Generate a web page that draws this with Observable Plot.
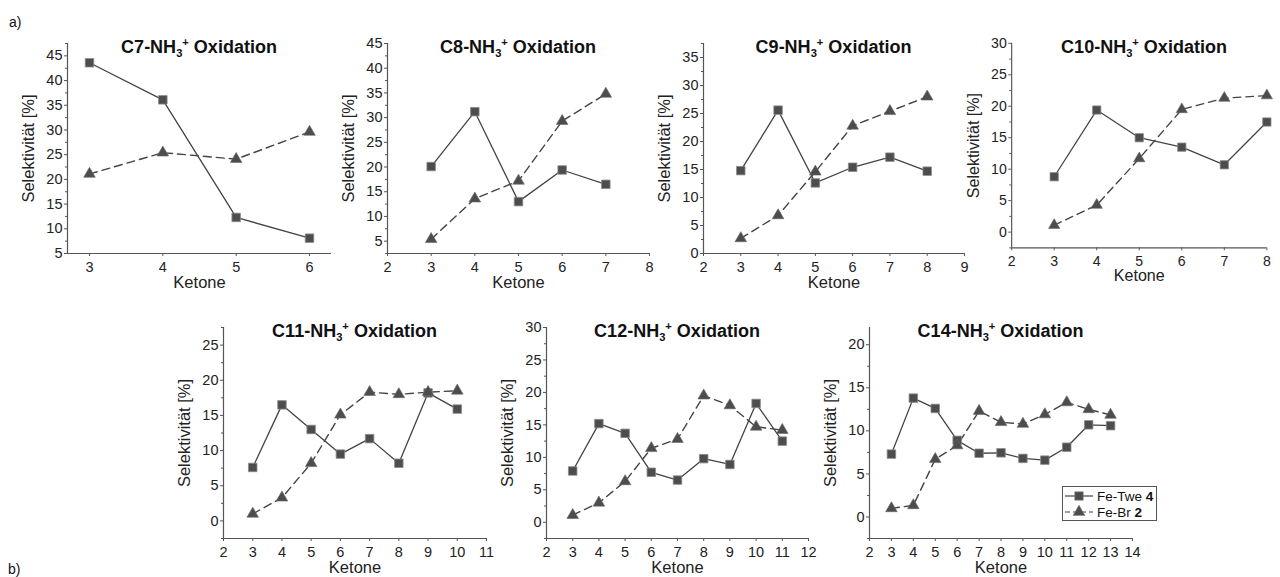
<!DOCTYPE html>
<html><head><meta charset="utf-8">
<script src="https://cdn.jsdelivr.net/npm/d3@7"></script>
<script src="https://cdn.jsdelivr.net/npm/@observablehq/plot@0.6"></script>
<style>
html,body{margin:0;padding:0;background:#fff;overflow:hidden;}
#fig{position:relative;width:1280px;height:577px;overflow:hidden;font-family:"Liberation Sans",Arial,sans-serif;color:#222;}
.panel{position:absolute;}
.title{position:absolute;font-weight:bold;font-size:18px;line-height:18px;white-space:nowrap;transform:translateX(-50%);color:#111;}
.title sub{font-size:0.62em;vertical-align:-0.35em;line-height:0;}
.title sup{font-size:0.62em;vertical-align:0.6em;line-height:0;}
.tag{position:absolute;font-size:14px;line-height:14px;color:#111;}
#legend{position:absolute;left:1062px;top:486px;width:93px;height:33px;border:1px solid #555;background:#fff;font-size:13.5px;color:#111;}
#legend .row{position:absolute;left:0;height:16px;display:flex;align-items:center;white-space:nowrap;}
#legend svg{display:block;}
</style>
</head><body>
<div id="fig"></div>
<script>
// ---------- data ----------
const seriesNames = ["Fe-Twe 4", "Fe-Br 2"];

const ketonesC7 = [3, 4, 5, 6];
const feTweC7 = [43.6, 36.1, 12.3, 8.1];
const feBrC7 = [21.1, 25.4, 24.1, 29.6];
const xTicksC7 = [3, 4, 5, 6];
const yTicksC7 = [5, 10, 15, 20, 25, 30, 35, 40, 45];

const ketonesC8 = [3, 4, 5, 6, 7];
const feTweC8 = [20.1, 31.2, 13.0, 19.4, 16.5];
const feBrC8 = [5.4, 13.6, 17.2, 29.3, 34.8];
const xTicksC8 = [2, 3, 4, 5, 6, 7, 8];
const yTicksC8 = [5, 10, 15, 20, 25, 30, 35, 40, 45];

const ketonesC9 = [3, 4, 5, 6, 7, 8];
const feTweC9 = [14.8, 25.6, 12.6, 15.4, 17.2, 14.7];
const feBrC9 = [2.7, 6.8, 14.6, 22.8, 25.4, 28.0];
const xTicksC9 = [2, 3, 4, 5, 6, 7, 8, 9];
const yTicksC9 = [0, 5, 10, 15, 20, 25, 30, 35];

const ketonesC10 = [3, 4, 5, 6, 7, 8];
const feTweC10 = [8.8, 19.4, 15.0, 13.5, 10.7, 17.5];
const feBrC10 = [1.1, 4.3, 11.7, 19.5, 21.3, 21.7];
const xTicksC10 = [2, 3, 4, 5, 6, 7, 8];
const yTicksC10 = [0, 5, 10, 15, 20, 25, 30];

const ketonesC11 = [3, 4, 5, 6, 7, 8, 9, 10];
const feTweC11 = [7.6, 16.5, 13.0, 9.5, 11.7, 8.2, 18.2, 15.9];
const feBrC11 = [1.0, 3.3, 8.2, 15.1, 18.3, 18.0, 18.3, 18.5];
const xTicksC11 = [2, 3, 4, 5, 6, 7, 8, 9, 10, 11];
const yTicksC11 = [0, 5, 10, 15, 20, 25];

const ketonesC12 = [3, 4, 5, 6, 7, 8, 9, 10, 11];
const feTweC12 = [7.9, 15.2, 13.7, 7.7, 6.5, 9.8, 8.9, 18.3, 12.5];
const feBrC12 = [1.1, 3.0, 6.3, 11.4, 12.8, 19.5, 18.0, 14.7, 14.2];
const xTicksC12 = [2, 3, 4, 5, 6, 7, 8, 9, 10, 11, 12];
const yTicksC12 = [0, 5, 10, 15, 20, 25, 30];

const ketonesC14 = [3, 4, 5, 6, 7, 8, 9, 10, 11, 12, 13];
const feTweC14 = [7.3, 13.8, 12.6, 8.9, 7.4, 7.45, 6.8, 6.6, 8.1, 10.7, 10.6];
const feBrC14 = [1.0, 1.35, 6.7, 8.3, 12.3, 11.0, 10.8, 11.9, 13.3, 12.5, 11.85];
const xTicksC14 = [2, 3, 4, 5, 6, 7, 8, 9, 10, 11, 12, 13, 14];
const yTicksC14 = [0, 5, 10, 15, 20];

// ---------- layout (positions / domains) ----------
const panels = [
  {chain:"C7",  k:ketonesC7,  a:feTweC7,  b:feBrC7,  xt:xTicksC7,  yt:yTicksC7,  xd:[2.7,6.3], yd:[5,47.5],   left:67,  right:331,  top:43,  bottom:253},
  {chain:"C8",  k:ketonesC8,  a:feTweC8,  b:feBrC8,  xt:xTicksC8,  yt:yTicksC8,  xd:[2,8],     yd:[2.5,45],   left:387, right:649,  top:43,  bottom:253},
  {chain:"C9",  k:ketonesC9,  a:feTweC9,  b:feBrC9,  xt:xTicksC9,  yt:yTicksC9,  xd:[2,9],     yd:[0,37.5],   left:703, right:964,  top:43,  bottom:253},
  {chain:"C10", k:ketonesC10, a:feTweC10, b:feBrC10, xt:xTicksC10, yt:yTicksC10, xd:[2,8],     yd:[-2.5,30],  left:1013,right:1275, top:43,  bottom:253},
  {chain:"C11", k:ketonesC11, a:feTweC11, b:feBrC11, xt:xTicksC11, yt:yTicksC11, xd:[2,11],    yd:[-2.5,27.5],left:223, right:486,  top:327, bottom:538},
  {chain:"C12", k:ketonesC12, a:feTweC12, b:feBrC12, xt:xTicksC12, yt:yTicksC12, xd:[2,12],    yd:[-2.5,30],  left:546, right:808,  top:327, bottom:538},
  {chain:"C14", k:ketonesC14, a:feTweC14, b:feBrC14, xt:xTicksC14, yt:yTicksC14, xd:[2,14],    yd:[-2.5,22],  left:869, right:1132, top:327, bottom:538}
];

const fig = document.getElementById("fig");
const mL = 70, mR = 14, mT = 6, mB = 44;
const ink = "#444";

for (const p of panels) {
  const w = p.right - p.left, h = p.bottom - p.top;
  const tweRows = p.k.map((k, i) => ({k, v: p.a[i]}));
  const brRows = p.k.map((k, i) => ({k, v: p.b[i]}));
  const minor = p.yt.map(v => v + 2.5).concat([p.yt[0] - 2.5])
    .filter(v => v >= p.yd[0] && v <= p.yd[1]);
  const chart = Plot.plot({
    width: w + mL + mR, height: h + mT + mB,
    marginLeft: mL, marginRight: mR, marginTop: mT, marginBottom: mB,
    x: {domain: p.xd, label: null},
    y: {domain: p.yd, label: null},
    style: {fontFamily: "Liberation Sans, Arial, sans-serif", fontSize: "14.5px", color: "#222", background: "transparent", overflow: "visible"},
    marks: [
      Plot.axisY(p.yt, {tickSize: 3, tickPadding: 2, stroke: "#555", label: null, fontSize: 14.5}),
      Plot.axisY(minor, {tickSize: 2, tickFormat: () => "", stroke: "#555", label: null}),
      Plot.axisX(p.xt, {tickSize: 3, tickPadding: 5, stroke: "#555", label: null, fontSize: 14.5}),
      Plot.ruleX([p.xd[0]], {stroke: "#555", strokeWidth: 1.2}),
      Plot.ruleY([p.yd[0]], {stroke: "#555", strokeWidth: 1.2}),
      Plot.line(tweRows, {x: "k", y: "v", stroke: ink, strokeWidth: 1.3}),
      Plot.line(brRows, {x: "k", y: "v", stroke: ink, strokeWidth: 1.4, strokeDasharray: "8,5"}),
      Plot.dot(tweRows, {x: "k", y: "v", symbol: "square", r: 4.8, fill: "#4d4d4d", stroke: "#8a8a8a", strokeWidth: 0.8}),
      Plot.dot(brRows, {x: "k", y: "v", symbol: "triangle", r: 4.3, fill: "#4d4d4d", stroke: "#666", strokeWidth: 0.6}),
      Plot.text(["Selektivität [%]"], {frameAnchor: "left", dx: -39, rotate: -90, text: d => d, fontSize: 16.5, textAnchor: "middle", lineAnchor: "middle", fill: "#222"}),
      Plot.text(["Ketone"], {frameAnchor: "bottom", dy: 29, text: d => d, fontSize: 16.5, textAnchor: "middle", lineAnchor: "middle", fill: "#222"})
    ]
  });
  const div = document.createElement("div");
  div.className = "panel";
  div.style.left = (p.left - mL) + "px";
  div.style.top = (p.top - mT) + "px";
  div.appendChild(chart);
  fig.appendChild(div);

  const t = document.createElement("div");
  t.className = "title";
  t.innerHTML = `${p.chain}-NH<sub>3</sub><sup>+</sup> Oxidation`;
  t.style.left = ((p.left + p.right) / 2) + "px";
  t.style.top = (p.top < 100 ? 37.5 : 321.5) + "px";
  fig.appendChild(t);
}

// panel tags
const ta = document.createElement("div");
ta.className = "tag"; ta.textContent = "a)"; ta.style.left = "9px"; ta.style.top = "15px";
fig.appendChild(ta);
const tb = document.createElement("div");
tb.className = "tag"; tb.textContent = "b)"; tb.style.left = "8px"; tb.style.top = "562px";
fig.appendChild(tb);

// legend
const leg = document.createElement("div");
leg.id = "legend";
const legendRows = [
  {name: seriesNames[0], dash: null, sym: "square"},
  {name: seriesNames[1], dash: "5,3", sym: "triangle"}
];
legendRows.forEach((r, i) => {
  const row = document.createElement("div");
  row.className = "row";
  row.style.top = (i === 0 ? 1 : 17) + "px";
  const svg = d3.create("svg").attr("width", 34).attr("height", 16);
  svg.append("line").attr("x1", 2).attr("x2", 30).attr("y1", 8).attr("y2", 8)
    .attr("stroke", ink).attr("stroke-width", 1.2).attr("stroke-dasharray", r.dash);
  svg.append("path").attr("transform", "translate(16,8)")
    .attr("d", d3.symbol(r.sym === "square" ? d3.symbolSquare : d3.symbolTriangle, r.sym === "square" ? 72 : 62)())
    .attr("fill", "#4d4d4d").attr("stroke", "#8a8a8a").attr("stroke-width", 0.6);
  row.appendChild(svg.node());
  const parts = r.name.split(" ");
  const txt = document.createElement("span");
  txt.innerHTML = `${parts[0]} <b>${parts[1]}</b>`;
  row.appendChild(txt);
  leg.appendChild(row);
});
fig.appendChild(leg);
</script>
</body></html>
